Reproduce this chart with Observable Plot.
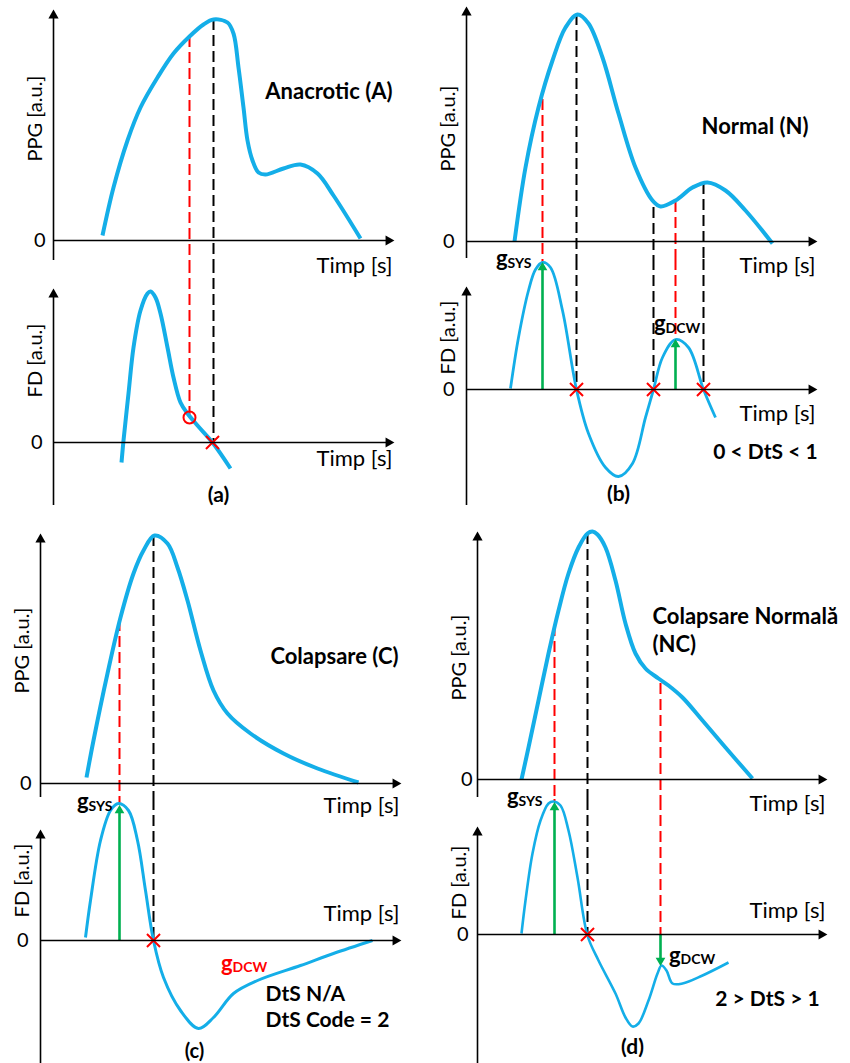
<!DOCTYPE html>
<html><head><meta charset="utf-8">
<script src="https://cdn.jsdelivr.net/npm/d3@7"></script>
<script src="https://cdn.jsdelivr.net/npm/@observablehq/plot@0.6"></script>
<style>
body{margin:0;background:#fff;color:#000}
#root{position:relative;width:850px;height:1063px;overflow:hidden;background:#fff}
</style>
</head><body><div id="root"></div>
<script>
// ---------- DATA (time [s-units], amplitude [a.u.]) ----------
// (a) Anacrotic
const ppgA = [[0.49,0.05],[0.60,0.53],[0.74,1.00],[0.87,1.33],[1.04,1.63],[1.20,1.87],[1.36,2.04],[1.50,2.16],[1.60,2.21],[1.74,2.18],[1.80,2.07],[1.85,1.73],[1.90,1.33],[1.94,1.00],[1.99,0.80],[2.05,0.68],[2.12,0.66],[2.30,0.72],[2.47,0.76],[2.64,0.67],[2.80,0.45],[3.07,0.02]];
const fdA = [[0.68,-0.20],[0.70,0.02],[0.75,0.49],[0.80,0.95],[0.87,1.32],[0.94,1.49],[0.97,1.51],[1.02,1.45],[1.07,1.29],[1.14,0.95],[1.20,0.65],[1.27,0.40],[1.34,0.29],[1.44,0.17],[1.59,0.00],[1.77,-0.26]];
const redA = [[1.36,2.04,0.25]];      // [t, PPG value, FD value]
const blackA = [[1.60,2.21,0]];
const zerosA = [1.59];
// (b) Normal
const ppgB = [[0.48,0.00],[0.59,0.74],[0.72,1.34],[0.86,1.81],[0.99,2.14],[1.11,2.27],[1.22,2.18],[1.36,1.84],[1.52,1.28],[1.69,0.74],[1.86,0.41],[1.94,0.35],[2.09,0.41],[2.26,0.54],[2.41,0.59],[2.59,0.51],[2.79,0.31],[3.06,-0.02]];
const fdB = [[0.44,0.01],[0.52,0.52],[0.62,0.99],[0.69,1.20],[0.76,1.27],[0.84,1.22],[0.96,0.79],[1.10,0.00],[1.22,-0.44],[1.39,-0.78],[1.52,-0.87],[1.66,-0.74],[1.79,-0.28],[1.87,0.00],[1.96,0.32],[2.09,0.50],[2.22,0.42],[2.37,0.00],[2.49,-0.28]];
const redB = [[0.76,1.42,1.27],[2.09,0.40,0.50]];
const blackB = [[1.10,2.27,0],[1.87,0.34,0],[2.37,0.58,0]];
const zerosB = [1.10,1.87,2.37];
const gSysB = [[0.76,1.25]];
const gDcwB = [[2.09,0.48]];
// (c) Colapsare
const ppgC = [[0.46,0.06],[0.53,0.43],[0.67,1.10],[0.80,1.66],[0.93,2.10],[1.03,2.33],[1.14,2.48],[1.27,2.40],[1.37,2.16],[1.47,1.83],[1.60,1.33],[1.73,0.93],[1.87,0.70],[2.10,0.50],[2.43,0.30],[2.77,0.15],[3.18,0.01]];
const fdC = [[0.45,0.03],[0.50,0.40],[0.60,1.00],[0.70,1.30],[0.78,1.37],[0.88,1.30],[0.97,1.00],[1.05,0.50],[1.13,0.00],[1.23,-0.37],[1.40,-0.70],[1.58,-0.88],[1.73,-0.77],[1.93,-0.53],[2.17,-0.40],[2.60,-0.25],[2.93,-0.13],[3.32,0.00]];
const redC = [[0.79,1.63,1.37]];
const blackC = [[1.13,2.48,0]];
const zerosC = [1.13];
const gSysC = [[0.79,1.33]];
// (d) Colapsare Normala
const ppgD = [[0.44,0.00],[0.51,0.32],[0.61,0.79],[0.71,1.26],[0.81,1.69],[0.91,2.06],[1.01,2.32],[1.10,2.46],[1.15,2.48],[1.20,2.45],[1.28,2.32],[1.38,1.99],[1.48,1.56],[1.58,1.26],[1.68,1.11],[1.81,1.01],[1.91,0.94],[2.05,0.82],[2.25,0.59],[2.48,0.32],[2.75,0.01]];
const fdD = [[0.44,0.01],[0.48,0.34],[0.55,0.81],[0.63,1.14],[0.71,1.31],[0.76,1.33],[0.83,1.29],[0.91,1.04],[1.00,0.57],[1.10,-0.01],[1.21,-0.26],[1.38,-0.59],[1.48,-0.83],[1.55,-0.92],[1.61,-0.89],[1.71,-0.66],[1.80,-0.39],[1.84,-0.31],[1.89,-0.36],[1.95,-0.49],[2.05,-0.49],[2.25,-0.41],[2.51,-0.28]];
const redD = [[0.77,1.54,1.33],[1.83,0.96,0]];
const blackD = [[1.10,2.46,0]];
const zerosD = [1.10];
const gSysD = [[0.77,1.30]];
const gDcwD = [[1.83,-0.29]];

// ---------- TEXT ----------
const yLabels = ["PPG [a.u.]", "FD [a.u.]"];
const xLabel = "Timp [s]";
const titles = ["Anacrotic (A)", "Normal (N)", "Colapsare (C)", "Colapsare Normală\n(NC)"];
const captions = ["(a)", "(b)", "(c)", "(d)"];
const notes = ["0 < DtS < 1", "DtS N/A\nDtS Code = 2", "2 > DtS > 1"];
const gMain = "g";
const gSubs = ["SYS", "DCW"];

// ---------- STYLE / LAYOUT ----------
const U = 100;
const BLUE = "#14aee8", RED = "#ff0000", GREEN = "#00b050", INK = "#000";
const FONT = "Lato, 'Open Sans', sans-serif";
const DASH = "11,5";
const root = document.getElementById("root");

function geom(L) {
  return {
    xMax: (L.arrowRight - L.axisX) / U,
    yTop: (L.axisY - L.arrowTop) / U,
    yBot: (L.axisY - L.axisBottom) / U,
    edgeTop: (L.axisY - L.top) / U,
    edgeBot: (L.axisY - L.top - L.height) / U
  };
}

function build(L, marksFn) {
  const G = geom(L);
  const base = [
    Plot.ruleY([0], {stroke: INK, strokeWidth: 1.6}),
    Plot.ruleX([0], {stroke: INK, strokeWidth: 1.6}),
    Plot.dot([[G.xMax, 0]], {x: d => d[0], y: d => d[1], symbol: "triangle", rotate: 90, r: 3.8, fill: INK, stroke: "none", dx: -2}),
    Plot.dot([[0, G.yTop]], {x: d => d[0], y: d => d[1], symbol: "triangle", r: 3.8, fill: INK, stroke: "none", dy: 2}),
    Plot.axisY({ticks: [0], tickSize: 0, tickPadding: L.zeroPad, label: null, fontSize: 20, tickFormat: () => "0", fontFamily: FONT}),
    Plot.text([L.yLabel], {x: () => 0, y: () => L.yLabelV, text: d => d, rotate: -90, dx: -18, fontSize: 20}),
    Plot.text([xLabel], {x: () => G.xMax, y: () => 0, text: d => d, textAnchor: "end", dx: 2, dy: L.timpDy, fontSize: 22})
  ];
  const svg = Plot.plot({
    width: L.width, height: L.height,
    marginLeft: L.axisX - L.left,
    marginRight: L.left + L.width - L.arrowRight,
    marginTop: L.arrowTop - L.top,
    marginBottom: L.top + L.height - L.axisBottom,
    x: {domain: [0, G.xMax], axis: null},
    y: {domain: [G.yBot, G.yTop], axis: null},
    style: {fontFamily: FONT, overflow: "visible", background: "transparent", position: "absolute", left: L.left + "px", top: L.top + "px", color: "#000"},
    marks: [...marksFn(G), ...base]
  });
  root.appendChild(svg);
}

const tx = d => d[0], ty = d => d[1];
function curve(data, w) { return Plot.line(data, {x: tx, y: ty, stroke: BLUE, strokeWidth: w, curve: "catmull-rom", strokeLinecap: "butt"}); }
function dashPPG(data, color, G) { return Plot.ruleX(data, {x: d => d[0], y1: d => d[1], y2: () => G.edgeBot, stroke: color, strokeWidth: 2, strokeDasharray: DASH}); }
function dashFD(data, color, G) { return Plot.ruleX(data, {x: d => d[0], y1: () => G.edgeTop, y2: d => d[2], stroke: color, strokeWidth: 2, strokeDasharray: DASH}); }
function crosses(data) { return Plot.dot(data, {x: d => d, y: () => 0, symbol: "times", r: 6, stroke: RED, strokeWidth: 2}); }
function greenArrow(data, down) {
  return [
    Plot.ruleX(data, {x: tx, y1: () => 0, y2: d => d[1] + (down ? 0.05 : -0.05), stroke: GREEN, strokeWidth: 2.6}),
    Plot.dot(data, {x: tx, y: ty, symbol: "triangle", rotate: down ? 180 : 0, r: 3.6, fill: GREEN, stroke: "none", dy: down ? -3 : 3})
  ];
}
function gLabel(data, sub, opts) {
  return [
    Plot.text(data, {x: tx, y: ty, text: () => gMain, textAnchor: "end", dx: opts.dx, dy: opts.dyG, fontSize: 22, fontWeight: "bold", fill: opts.fill || INK}),
    Plot.text(data, {x: tx, y: ty, text: () => sub, textAnchor: "start", dx: opts.dx, dy: opts.dyS, fontSize: 14, fontWeight: "bold", fill: opts.fill || INK})
  ];
}
const bold = (s, o) => Plot.text([s], {text: d => d, fontWeight: "bold", fontSize: 21, lineHeight: 1.25, ...o});

// ---------- PANEL (a) ----------
build({left: 0, top: 0, width: 425, height: 262, axisX: 53, axisY: 240, arrowTop: 13, axisBottom: 260, arrowRight: 390,
       zeroPad: 8, yLabel: yLabels[0], yLabelV: 1.22, timpDy: 25},
  G => [dashPPG(redA, RED, G), dashPPG(blackA, INK, G), curve(ppgA, 4),
        bold(titles[0], {x: () => G.xMax, y: () => 1.50, textAnchor: "end", dx: 2, fontSize: 22})]);
build({left: 0, top: 262, width: 425, height: 258, axisX: 53, axisY: 442, arrowTop: 292, axisBottom: 505, arrowRight: 390,
       zeroPad: 11, yLabel: yLabels[1], yLabelV: 0.82, timpDy: 16},
  G => [dashFD(redA, RED, G), dashFD(blackA, INK, G), curve(fdA, 4),
        Plot.dot(redA, {x: d => d[0], y: d => d[2], r: 6, stroke: RED, strokeWidth: 2, fill: "none"}),
        crosses(zerosA),
        bold(captions[0], {x: () => 1.65, y: () => -0.51})]);

// ---------- PANEL (b) ----------
build({left: 425, top: 0, width: 425, height: 259, axisX: 466, axisY: 241, arrowTop: 10, axisBottom: 258, arrowRight: 813,
       zeroPad: 12, yLabel: yLabels[0], yLabelV: 1.13, timpDy: 24},
  G => [dashPPG(redB, RED, G), dashPPG(blackB, INK, G), curve(ppgB, 4),
        bold(titles[1], {x: () => G.xMax, y: () => 1.16, textAnchor: "end", dx: -5, fontSize: 22})]);
build({left: 425, top: 259, width: 425, height: 261, axisX: 466, axisY: 389, arrowTop: 290, axisBottom: 505, arrowRight: 813,
       zeroPad: 12, yLabel: yLabels[1], yLabelV: 0.52, timpDy: 24},
  G => [dashFD(redB, RED, G), dashFD(blackB, INK, G), curve(fdB, 2.8),
        ...greenArrow(gSysB), ...greenArrow(gDcwB), crosses(zerosB),
        ...gLabel(gSysB, gSubs[0], {dx: -35, dyG: -6, dyS: -1}),
        ...gLabel(gDcwB, gSubs[1], {dx: -10, dyG: -18, dyS: -13}),
        bold(notes[0], {x: () => 2.99, y: () => -0.61}),
        bold(captions[1], {x: () => 1.52, y: () => -1.03})]);

// ---------- PANEL (c) ----------
build({left: 0, top: 520, width: 425, height: 279, axisX: 40, axisY: 783, arrowTop: 537, axisBottom: 797, arrowRight: 397,
       zeroPad: 9, yLabel: yLabels[0], yLabelV: 1.33, timpDy: 22},
  G => [dashPPG(redC, RED, G), dashPPG(blackC, INK, G), curve(ppgC, 4),
        bold(titles[2], {x: () => G.xMax, y: () => 1.28, textAnchor: "end", dx: 1, fontSize: 22})]);
build({left: 0, top: 799, width: 425, height: 264, axisX: 40, axisY: 940, arrowTop: 833, axisBottom: 1063, arrowRight: 397,
       zeroPad: 12, yLabel: yLabels[1], yLabelV: 0.60, timpDy: -27},
  G => [dashFD(redC, RED, G), dashFD(blackC, INK, G), curve(fdC, 3),
        ...greenArrow(gSysC), crosses(zerosC),
        ...gLabel(gSysC, gSubs[0], {dx: -31, dyG: -6, dyS: -1}),
        ...gLabel([[1.92, -0.25]], gSubs[1], {dx: 0, dyG: -2, dyS: 2, fill: RED}),
        bold(notes[1], {x: () => 2.25, y: () => -0.65, textAnchor: "start"}),
        bold(captions[2], {x: () => 1.54, y: () => -1.09, fontSize: 20})]);

// ---------- PANEL (d) ----------
build({left: 425, top: 520, width: 425, height: 279, axisX: 477, axisY: 779, arrowTop: 535, axisBottom: 797, arrowRight: 823,
       zeroPad: 5, yLabel: yLabels[0], yLabelV: 1.22, timpDy: 24},
  G => [dashPPG(redD, RED, G), dashPPG(blackD, INK, G), curve(ppgD, 4),
        bold(titles[3], {x: () => 1.75, y: () => 1.505, textAnchor: "start", fontSize: 22})]);
build({left: 425, top: 799, width: 425, height: 264, axisX: 477, axisY: 934, arrowTop: 830, axisBottom: 1063, arrowRight: 823,
       zeroPad: 9, yLabel: yLabels[1], yLabelV: 0.52, timpDy: -24},
  G => [dashFD(redD, RED, G), dashFD(blackD, INK, G), curve(fdD, 2.6),
        ...greenArrow(gSysD), ...greenArrow(gDcwD, true), crosses(zerosD),
        ...gLabel(gSysD, gSubs[0], {dx: -36, dyG: -8, dyS: -3}),
        ...gLabel([[2.03, -0.23]], gSubs[1], {dx: 0, dyG: -2, dyS: 2}),
        bold(notes[2], {x: () => 2.90, y: () => -0.63}),
        bold(captions[3], {x: () => 1.55, y: () => -1.11})]);
</script></body></html>
